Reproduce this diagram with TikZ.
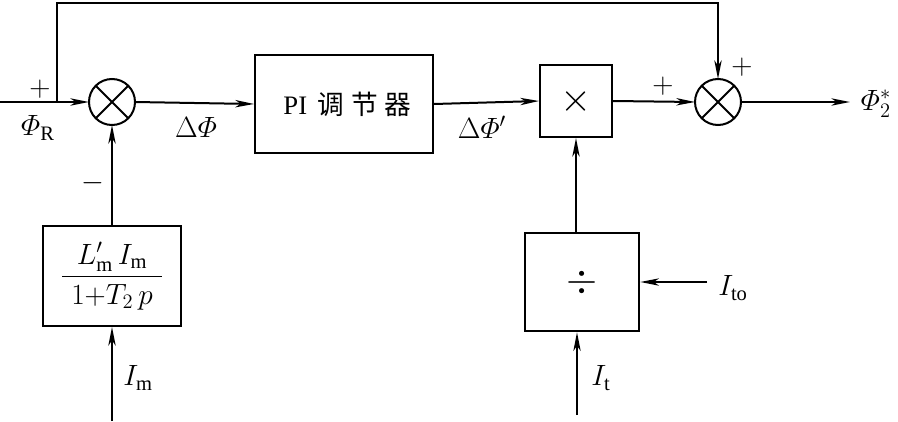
\documentclass[tikz,border=0pt]{standalone}
\usepackage{fix-cm}
\usepackage{amsmath}
\usepackage{fontspec}
\setmainfont{Liberation Serif}
\newfontfamily\cjk[LetterSpace=25]{Noto Sans CJK SC}
\usetikzlibrary{arrows.meta}

\begin{document}
\begin{tikzpicture}[
  x=0.75pt, y=-0.75pt,
  font=\fontsize{22}{26}\selectfont,
  every path/.style={line width=1.5pt},
  box/.style={draw, line width=1.5pt, inner sep=0pt, align=center},
  sum/.style={draw, circle, line width=1.5pt, minimum size=34.5pt, inner sep=0pt, outer sep=0pt},
  line/.style={-{Stealth[length=14pt, width=5.5pt, inset=4pt]}},
  lab/.style={inner sep=1pt},
  big/.style={font=\fontsize{30}{34}\selectfont}
]
\useasboundingbox (0,0) rectangle (898,421);

% summing points and blocks
\node[sum] (s1) at (112,102) {};
\node[sum] (s2) at (718,102) {};
\draw (s1.north east) -- (s1.south west) (s1.north west) -- (s1.south east);
\draw (s2.north east) -- (s2.south west) (s2.north west) -- (s2.south east);

\node[box, minimum width=133.5pt, minimum height=73.5pt, font=\fontsize{20}{24}\selectfont] (pi) at (344,104)
  {PI\hspace{0.4em}{\cjk 调节器}\hspace{-0.25em}};
\node[box, big, minimum width=54pt, minimum height=54pt] (mul) at (576,101) {$\times$};
\node[box, minimum width=104pt, minimum height=75pt] (fb) at (112,276)
  {$\dfrac{\hspace{0.5em}L'_\mathrm{m}\,I_\mathrm{m}\hspace{0.5em}}{1{+}T_2\,p}$};
\node[box, big, minimum width=86pt, minimum height=74pt] (div) at (582,282) {$\div$};

% free ends
\coordinate (in) at (0,102);
\coordinate (br) at (57,102);
\coordinate (top) at (57,3);
\coordinate (out) at (850,102);
\coordinate (imin) at (112,421);
\coordinate (itin) at (577,415);
\coordinate (itoin) at (707,282);

% connectors
\draw[line] (in) -- (s1.west);
\draw[line] (br) -- (top) -| (s2.north);
\draw[line] (s1.east) -- (pi.west);
\draw[line] (pi.east) -- (mul.west);
\draw[line] (mul.east) -- (s2.west);
\draw[line] (s2.east) -- (out);
\draw[line] (fb.north) -- (s1.south);
\draw[line] (imin) -- (fb.south);
\draw[line] (div.north -| mul.south) -- (mul.south);
\draw[line] (itin) -- (itin |- div.south);
\draw[line] (itoin) -- (div.east);

% labels
\node[lab] (pR) at (40,89) {$+$};
\node[lab] (phiR) at (38,128) {$\varPhi_\mathrm{R}$};
\node[lab] (minus) at (93,183) {$-$};
\node[lab] (dphi) at (196,127) {$\Delta\varPhi$};
\node[lab] (dphip) at (482,127) {$\Delta\varPhi'$};
\node[lab] (pA) at (663,86) {$+$};
\node[lab] (pB) at (742,67) {$+$};
\node[lab] (phi2) at (876,104) {$\varPhi_2^*$};
\node[lab] (im) at (138,378) {$I_\mathrm{m}$};
\node[lab] (it) at (601,378) {$I_\mathrm{t}$};
\node[lab] (ito) at (733,288) {$I_\mathrm{to}$};
\end{tikzpicture}
\end{document}
